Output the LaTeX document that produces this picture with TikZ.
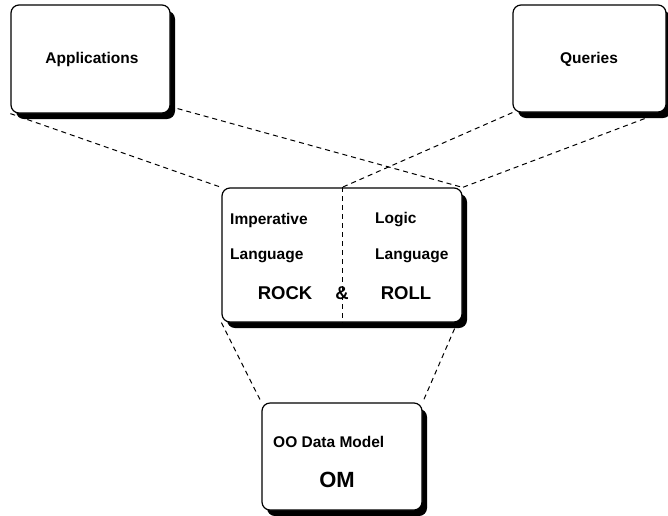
\documentclass[tikz,border=0pt]{standalone}
\usepackage{fontspec}
\setmainfont{Liberation Sans}
\usetikzlibrary{shadows}
\begin{document}
\begin{tikzpicture}[x=1pt,y=-1pt,
  box/.style={draw=black,line width=1.2pt,fill=white,rounded corners=8pt,
    inner sep=0pt,
    drop shadow={shadow xshift=5pt,shadow yshift=-6pt,fill=black,opacity=1}},
  link/.style={draw=black,line width=1pt,dash pattern=on 5pt off 4pt},
  lbl/.style={font=\bfseries\fontsize{15.5}{18}\selectfont,inner sep=0pt},
  big/.style={font=\bfseries\fontsize{18.5}{22}\selectfont,inner sep=0pt}]
\useasboundingbox (0,0) rectangle (668,515);

% boxes
\node[box,minimum width=159pt,minimum height=108pt] (app) at (90.5,59) {};
\node[box,minimum width=153pt,minimum height=107pt] (qry) at (589.5,58.5) {};
\node[box,minimum width=240pt,minimum height=134pt] (mid) at (342,255) {};
\node[box,minimum width=160pt,minimum height=107pt] (om) at (342,456.5) {};

% box texts
\node[lbl] (tapp) at (92,59) {Applications};
\node[lbl] (tqry) at (589,59) {Queries};
\node[lbl,anchor=west] (imp) at (230,220) {Imperative};
\node[lbl,anchor=west] (lang1) at (230,256) {Language};
\node[lbl,anchor=west] (logic) at (375,220) {Logic};
\node[lbl,anchor=west] (lang2) at (375,256) {Language};
\node[big] (rock) at (285,293) {ROCK};
\node[big] (amp) at (342,293) {\&};
\node[big] (roll) at (406,293) {ROLL};
\node[lbl,anchor=west] (oodm) at (273,442) {OO Data Model};
\node[font=\bfseries\fontsize{22}{26}\selectfont,inner sep=0pt] (tom) at (337,480) {OM};

% connector end points
\coordinate (appR) at ([shift={(7,-5)}]app.south east);
\coordinate (qryR) at ([shift={(-22,6)}]qry.south east);
\coordinate (midT) at (mid.north);
\coordinate (midBR) at ([shift={(-8,6)}]mid.south east);

% dashed connectors
\draw[link] (app.south west) -- (mid.north west);
\draw[link] (appR) -- (mid.north east);
\draw[link] (qry.south west) -- (midT);
\draw[link] (qryR) -- (mid.north east);
\draw[link] (mid.north) -- (mid.south);
\draw[link] (mid.south west) -- (om.north west);
\draw[link] (midBR) -- (om.north east);
\end{tikzpicture}
\end{document}
